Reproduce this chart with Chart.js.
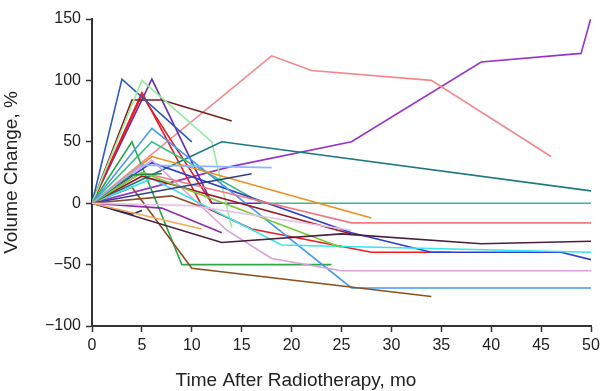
<!DOCTYPE html>
<html lang="en">
  <head>
    <meta charset="UTF-8" />
    <title>Volume change after radiotherapy</title>
    <script src="https://cdn.jsdelivr.net/npm/chart.js"></script>
    <style>
      body {
        margin: 0;
        background: #fff;
      }
      .wrap {
        width: 604px;
        height: 391px;
      }
    </style>
  </head>
  <body>
    <div class="wrap"><canvas id="volChart" width="604" height="391"></canvas></div>

    <script>
      // tick labels
      var xTicks = [0, 5, 10, 15, 20, 25, 30, 35, 40, 45, 50];
      var yTicks = [-100, -50, 0, 50, 100, 150];

      // one array per patient: [months after radiotherapy, volume change %]
      var p01 = [[0, 0], [14, 30], [26, 50], [39, 115], [49, 122], [50, 151]];
      var p02 = [[0, 0], [18, 120], [22, 108], [34, 100], [46, 38]];
      var p03 = [[0, 0], [13, 50], [50, 10]];
      var p04 = [[0, 0], [4, 84], [7, 84], [14, 67]];
      var p05 = [[0, 0], [3, 101], [10, 50]];
      var p06 = [[0, 0], [5, 100], [12, 50], [14, -20]];
      var p07 = [[0, 0], [6, 101], [12, 0], [17, 0]];
      var p08 = [[0, 0], [6, 50], [17, 0], [50, 0]];
      var p09 = [[0, 0], [4, 50], [9, -50], [24, -50]];
      var p10 = [[0, 0], [5, 90], [11, -2], [16, -21], [28, -40], [36, -40]];
      var p11 = [[0, 0], [6, 33], [26, -24], [34, -40], [47, -40], [50, -46]];
      var p12 = [[0, 0], [6, 20], [19, -34], [50, -40]];
      var p13 = [[0, 0], [6, 35], [13.5, -22], [18, -45], [25, -55], [50, -55]];
      var p14 = [[0, 0], [6, 61], [26, -69], [50, -69]];
      var p15 = [[0, 0], [4, 13], [10, -53], [34, -76]];
      var p16 = [[0, 0], [13, -32], [25, -25], [39, -33], [50, -31]];
      var p17 = [[0, 0], [6, 38], [28, -12]];
      var p18 = [[0, 0], [5, 25], [26, -16], [50, -16]];
      var p19 = [[0, 0], [5, 25], [25, -36]];
      var p20 = [[0, 0], [5, 22], [26, -25]];
      var p21 = [[0, 0], [4, -9], [5, -6]];
      var p22 = [[0, 0], [16, 24]];
      var p23 = [[0, 0], [5, 31], [18, 29]];
      var p24 = [[0, 0], [11, -21]];
      var p25 = [[0, 0], [7, -4], [13, -24]];
      var p26 = [[0, 0], [10, -2], [26, -22]];
      var p27 = [[0, 0], [4, 23], [7, 24]];
      var p28 = [[0, 0], [8, 6], [11, -3]];
      var p29 = [[0, 0], [5, 88], [12, 0]];

      var patients = [
        p26, p24, p28, p21, p22, p23, p27, p16, p19, p20, p18, p17, p12, p13,
        p25, p15, p14, p11, p09, p08, p03, p06, p05, p04, p29, p10, p07, p02, p01,
      ];
      var lineColors = [
        "#e8c0e8", "#f5a855", "#8b4a2a", "#1f2a6b", "#2d3f8a", "#90b4ff",
        "#1f8a3c", "#4a2040", "#7cc83a", "#9b1b2b", "#f07a80", "#f08c1c",
        "#33e6f0", "#d9a0dc", "#8e2aa8", "#8b5220", "#4499f0", "#2a3fd0",
        "#2ca844", "#3dbb84", "#1b7a80", "#98eea0", "#2a5cbf", "#7a1f1f",
        "#e0202a", "#ee1c1c", "#6a2bb0", "#f4878a", "#9932cc",
      ];

      var datasets = patients.map(function (pts, i) {
        return {
          label: "Patient " + (i + 1),
          data: pts.map(function (p) {
            return { x: p[0], y: p[1] };
          }),
          borderColor: lineColors[i],
          borderWidth: 1.6,
          pointRadius: 0,
          tension: 0,
          fill: false,
        };
      });

      // x axis title is centred under the whole figure, not the plot area
      var xTitlePlugin = {
        id: "xTitle",
        afterDraw: function (chart) {
          var ctx = chart.ctx;
          ctx.save();
          ctx.font = '19px "Liberation Sans", Arial, sans-serif';
          ctx.fillStyle = "#222";
          ctx.textAlign = "center";
          ctx.textBaseline = "middle";
          ctx.fillText("Time After Radiotherapy, mo", 296, 381);
          ctx.restore();
        },
      };

      var tickFont = { family: '"Liberation Sans", Arial, sans-serif', size: 16 };

      new Chart(document.getElementById("volChart").getContext("2d"), {
        type: "line",
        data: { datasets: datasets },
        plugins: [xTitlePlugin],
        options: {
          responsive: false,
          animation: false,
          parsing: true,
          layout: { padding: { top: 19, right: 13, left: 0, bottom: 0 } },
          plugins: {
            legend: { display: false },
            tooltip: { enabled: false },
          },
          scales: {
            x: {
              type: "linear",
              min: 0,
              max: 50,
              afterBuildTicks: function (scale) {
                scale.ticks = xTicks.map(function (v) {
                  return { value: v };
                });
              },
              afterFit: function (scale) {
                scale.height = 65;
              },
              ticks: { color: "#222", font: tickFont, padding: 4, maxRotation: 0 },
              grid: {
                drawOnChartArea: false,
                drawTicks: true,
                tickLength: 6,
                color: "#333",
                tickWidth: 1.5,
              },
              border: { color: "#333", width: 2 },
            },
            y: {
              type: "linear",
              min: -100,
              max: 150,
              afterBuildTicks: function (scale) {
                scale.ticks = yTicks.map(function (v) {
                  return { value: v };
                });
              },
              afterFit: function (scale) {
                scale.width = 92;
              },
              ticks: {
                color: "#222",
                font: tickFont,
                padding: 5,
                callback: function (v) {
                  return v < 0 ? "\u2212" + Math.abs(v) : String(v);
                },
              },
              title: {
                display: true,
                text: "Volume Change, %",
                color: "#222",
                font: { family: '"Liberation Sans", Arial, sans-serif', size: 19 },
                padding: { top: 0, bottom: 4 },
              },
              grid: {
                drawOnChartArea: false,
                drawTicks: true,
                tickLength: 6,
                color: "#333",
                tickWidth: 1.5,
              },
              border: { color: "#333", width: 2 },
            },
          },
        },
      });
    </script>
  </body>
</html>
